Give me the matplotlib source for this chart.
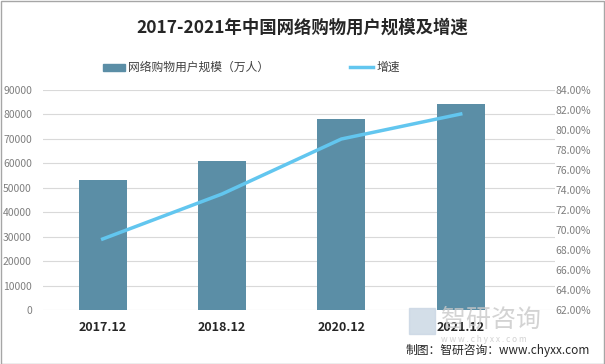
import matplotlib
matplotlib.use('Agg')
import matplotlib.pyplot as plt
from matplotlib.patches import Rectangle
from matplotlib.lines import Line2D

plt.rcParams['font.family'] = ['Noto Sans CJK SC', 'DejaVu Sans']

# --- データ ---
categories = ['2017.12', '2018.12', '2020.12', '2021.12']
users = [53332, 61011, 78241, 84210]          # 网络购物用户规模（万人）
growth = [69.1, 73.6, 79.1, 81.6]             # 增速 (%)

BAR_COLOR = '#5b8ea6'
LINE_COLOR = '#62c6ef'
GRID_COLOR = '#d9d9d9'
TICK_COLOR = '#7f7f7f'

W, H = 605, 364
fig = plt.figure(figsize=(W / 100, H / 100), dpi=100)

# 外枠
fig.add_artist(Rectangle((0.001, 0.001), 0.997, 0.997, transform=fig.transFigure,
                         fill=False, edgecolor='#a6a6a6', linewidth=1))

ax1 = fig.add_axes([43 / W, (H - 310) / H, 512 / W, 220 / H])
ax2 = ax1.twinx()

x = list(range(len(categories)))
ax1.bar(x, users, width=0.4, color=BAR_COLOR, zorder=2)
ax1.set_ylim(0, 90000)
ax1.set_yticks(range(0, 90001, 10000))
ax1.set_xlim(-0.5, 3.79)
ax1.grid(axis='y', color=GRID_COLOR, linewidth=0.8, zorder=0)
ax1.set_axisbelow(True)
ax1.set_xticks(x)
ax1.set_xticklabels(categories, fontsize=9, fontweight='bold', color='#262626')
ax1.tick_params(axis='x', length=0, pad=8)
ax1.tick_params(axis='y', length=0, labelsize=7.5, labelcolor=TICK_COLOR, pad=8)

ax2.plot(x, growth, color=LINE_COLOR, linewidth=2.5, zorder=3)
ax2.set_ylim(62, 84)
ax2.set_yticks(range(62, 85, 2))
ax2.set_yticklabels(['{:.2f}%'.format(v) for v in range(62, 85, 2)])
ax2.tick_params(axis='y', length=0, labelsize=7.5, labelcolor=TICK_COLOR, pad=0)

for ax in (ax1, ax2):
    for s in ax.spines.values():
        s.set_visible(False)

# --- タイトル ---
fig.text(0.5, 1 - 28 / H, '2017-2021年中国网络购物用户规模及增速', ha='center', va='center',
         fontsize=12.5, fontweight='bold', color='#262626')

# --- 凡例 ---
fig.add_artist(Rectangle((103 / W, 1 - 71 / H), 22 / W, 7 / H, transform=fig.transFigure,
                         color=BAR_COLOR))
fig.text(128 / W, 1 - 67 / H, '网络购物用户规模（万人）', va='center', fontsize=8.5, color='#404040')
fig.add_artist(Line2D([350 / W, 373 / W], [1 - 67 / H, 1 - 67 / H], transform=fig.transFigure,
                      color=LINE_COLOR, linewidth=2.5))
fig.text(377 / W, 1 - 67 / H, '增速', va='center', fontsize=8.5, color='#404040')

# --- 透かし・出典 ---
fig.add_artist(Rectangle((409 / W, 1 - 334 / H), 26 / W, 26 / H, transform=fig.transFigure,
                         color='#c9d6e3', alpha=0.8))
fig.text(441 / W, 1 - 320 / H, '智研咨询', ha='left', va='center', fontsize=18,
         color='#c8c8c8', alpha=0.8)
fig.text(441 / W, 1 - 340 / H, 'w w w . c h y x x . c o m', ha='left', va='center',
         fontsize=6, color='#c8c8c8', alpha=0.8)
fig.text(590 / W, 1 - 350 / H, '制图：智研咨询：www.chyxx.com', ha='right', va='center',
         fontsize=8.5, color='#262626')

fig.savefig('out.png', dpi=100)
